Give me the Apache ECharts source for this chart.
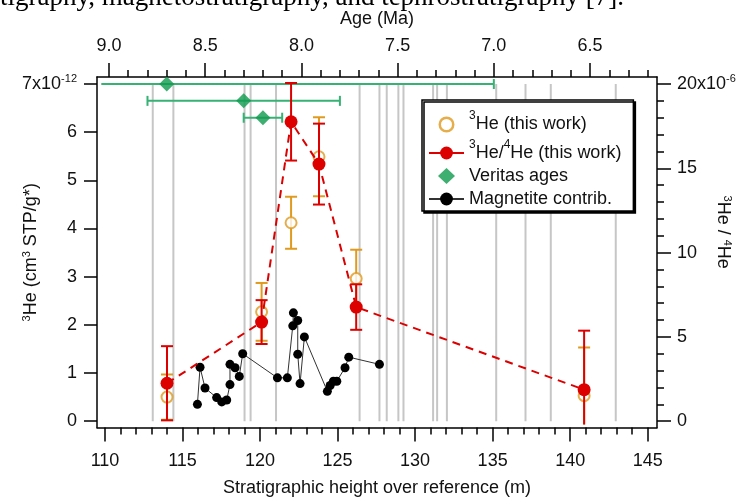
<!DOCTYPE html>
<html>
<head>
<meta charset="utf-8">
<script src="https://cdn.jsdelivr.net/npm/echarts@6/dist/echarts.min.js"></script>
<style>
  html, body { margin: 0; padding: 0; background: #fff; }
  #chart { width: 742px; height: 498px; }
</style>
</head>
<body>
<div id="chart"></div>
<script>
// 3He and 3He/4He samples (stratigraphic height in m)
const sampleHeight = [114.0, 120.1, 122.0, 123.8, 126.2, 140.9];
const he3 = [0.50, 2.27, 4.12, 5.49, 2.96, 0.53];          // x10^-12 cm3 STP/g
const he3Err = [0.47, 0.60, 0.54, 0.82, 0.60, 1.00];
const ratio = [2.25, 5.88, 17.76, 15.25, 6.77, 1.87];      // x10^-6
const ratioErr = [2.2, 1.3, 2.3, 2.4, 1.35, 3.5];

// magnetite contribution
const magHeight = [115.96, 116.13, 116.45, 117.20, 117.53, 117.85, 118.06, 118.06, 118.39, 118.66, 118.88,
  121.12, 121.76, 122.11, 122.15, 122.43, 122.43, 122.58, 122.86, 124.34, 124.52, 124.73, 124.95, 125.48, 125.72, 127.70];
const magValue = [0.35, 1.12, 0.69, 0.49, 0.40, 0.44, 0.76, 1.18, 1.11, 0.93, 1.40,
  0.90, 0.90, 1.98, 2.25, 2.09, 1.39, 0.78, 1.75, 0.62, 0.74, 0.83, 0.83, 1.11, 1.33, 1.18];

// Veritas ages (Ma), plotted against the ratio axis
const veritasAge = [8.70, 8.30, 8.20];
const veritasOld = [9.04, 8.80, 8.30];
const veritasYoung = [7.00, 7.80, 8.10];
const veritasLevel = [20, 19, 18];

// grey reference levels (m)
const refLevels = [113.08, 114.41, 119.0, 119.39, 121.03, 126.42, 127.70, 128.17, 128.92, 129.25,
  131.16, 131.42, 132.05, 135.23, 137.12, 138.75, 142.94];

// ticks
const heightTicks = [110, 115, 120, 125, 130, 135, 140, 145];
const ageTicks = [9.0, 8.5, 8.0, 7.5, 7.0, 6.5];
const he3Ticks = [0, 1, 2, 3, 4, 5, 6, 7];
const ratioTicks = [0, 5, 10, 15, 20];
const heightMinor = [];
for (let v = 110; v <= 145; v++) heightMinor.push(v);
const ageMinor = [];
for (let i = 90; i >= 62; i--) ageMinor.push(i / 10);
const ratioMinor = [];
for (let v = 0; v <= 20; v++) ratioMinor.push(v);

const FONT = '"Liberation Sans", Arial, sans-serif';
const RED = '#dc0000';
const ORANGE = '#e09a1e';
const GREEN_LINE = '#35b274';
const GREEN = '#0f9a4e';

const sup = { fontSize: 11, fontFamily: FONT, color: '#111', padding: [0, 0, 10, 0] };
const legendSup = { fontSize: 12, fontFamily: FONT, color: '#111', padding: [0, 0, 17, 0] };
const labelText = { fontFamily: FONT, fontSize: 18, color: '#111' };

// legend icons drawn inside a 35x16 box so they keep their shape
const diamondIcon = 'path://M0,8L0.01,8ZM35,8L34.99,8ZM17.5,0L26,8L17.5,16L9,8Z';
const ringIcon = 'path://M0,8L0.01,8ZM35,8L34.99,8Z' +
  'M25.5,8A8,8,0,1,0,9.5,8A8,8,0,1,0,25.5,8Z' +
  'M23,8A5.5,5.5,0,1,1,12,8A5.5,5.5,0,1,1,23,8Z';

function vErrBar(color, cap) {
  return function (params, api) {
    const cs = params.coordSys;
    const bottom = cs.y + cs.height;
    const x = api.value(0);
    const p0 = api.coord([x, api.value(1)]);
    const p1 = api.coord([x, api.value(2)]);
    const style = { stroke: color, lineWidth: 2 };
    const clipped = p0[1] > bottom;
    const y0 = clipped ? bottom - 3 : p0[1];
    const children = [
      { type: 'line', shape: { x1: p0[0], y1: y0, x2: p1[0], y2: p1[1] }, style },
      { type: 'line', shape: { x1: p1[0] - cap, y1: p1[1], x2: p1[0] + cap, y2: p1[1] }, style }
    ];
    if (!clipped) {
      children.push({ type: 'line', shape: { x1: p0[0] - cap, y1: p0[1], x2: p0[0] + cap, y2: p0[1] }, style });
    }
    return { type: 'group', children };
  };
}

function hErrBar(params, api) {
  const y = api.value(3);
  const p0 = api.coord([api.value(1), y]);
  const p1 = api.coord([api.value(2), y]);
  const style = { stroke: GREEN_LINE, lineWidth: 2 };
  const children = [
    { type: 'line', shape: { x1: p0[0], y1: p0[1], x2: p1[0], y2: p1[1] }, style },
    { type: 'line', shape: { x1: p1[0], y1: p1[1] - 5, x2: p1[0], y2: p1[1] + 5 }, style }
  ];
  if (api.value(1) <= 9.0) {
    children.push({ type: 'line', shape: { x1: p0[0], y1: p0[1] - 5, x2: p0[0], y2: p0[1] + 5 }, style });
  }
  return { type: 'group', children };
}

const names = ['3He (this work)', '3He/4He (this work)', 'Veritas ages', 'Magnetite contrib.'];
const legendLabels = {
  '3He (this work)': '{sup|3}He (this work)',
  '3He/4He (this work)': '{sup|3}He/{sup|4}He (this work)',
  'Veritas ages': 'Veritas ages',
  'Magnetite contrib.': 'Magnetite contrib.'
};
const legendIcons = { '3He (this work)': ringIcon, 'Veritas ages': diamondIcon };

const chart = echarts.init(document.getElementById('chart'));

const axisLine = { show: true, onZero: false, lineStyle: { color: '#000', width: 1.5 } };
const noLine = { show: false, onZero: false };
const tickStyle = { color: '#000', width: 1.5 };

chart.setOption({
  animation: false,
  backgroundColor: '#fff',
  textStyle: { fontFamily: FONT },
  grid: { left: 97, right: 85, top: 77, bottom: 70.5, outerBoundsMode: 'none', containLabel: false },
  graphic: [{
    type: 'text', left: 0, top: -16, silent: true,
    style: { text: 'tigraphy, magnetostratigraphy, and tephrostratigraphy [7].', font: '27px "Liberation Serif"', fill: '#000' }
  }],
  legend: {
    orient: 'vertical', left: 422, top: 100,
    data: names.map(n => legendIcons[n] ? { name: n, icon: legendIcons[n] } : { name: n }),
    formatter: n => legendLabels[n],
    itemWidth: 35, itemHeight: 16, itemGap: 5,
    padding: [10, 12, 3, 6],
    borderColor: '#000', borderWidth: 1.5, backgroundColor: '#fff',
    shadowColor: '#000', shadowOffsetX: 2, shadowOffsetY: 2, shadowBlur: 0,
    lineStyle: { type: 'solid' },
    selectedMode: false,
    textStyle: Object.assign({ rich: { sup: legendSup } }, labelText)
  },
  xAxis: [
    {
      type: 'value', position: 'bottom', min: 109.484, max: 145.6,
      name: 'Stratigraphic height over reference (m)', nameLocation: 'middle', nameGap: 52,
      nameMoveOverlap: false,
      nameTextStyle: labelText,
      axisLine,
      axisTick: { show: true, inside: false, customValues: heightTicks, length: 14, lineStyle: tickStyle },
      axisLabel: Object.assign({ customValues: heightTicks, margin: 25 }, labelText),
      splitLine: { show: false }
    },
    {
      type: 'value', position: 'bottom', min: 109.484, max: 145.6,
      axisLine: noLine,
      axisTick: { show: true, inside: false, customValues: heightMinor, length: 7, lineStyle: tickStyle },
      axisLabel: { show: false }, splitLine: { show: false }
    },
    {
      type: 'value', position: 'top', min: 6.152, max: 9.0624, inverse: true,
      name: 'Age (Ma)', nameLocation: 'middle', nameGap: 49,
      nameMoveOverlap: false,
      nameTextStyle: labelText,
      axisLine,
      axisTick: { show: true, inside: false, customValues: ageTicks, length: 14, lineStyle: tickStyle },
      axisLabel: Object.assign({ customValues: ageTicks, margin: 22, formatter: v => v.toFixed(1) }, labelText),
      splitLine: { show: false }
    },
    {
      type: 'value', position: 'top', min: 6.152, max: 9.0624, inverse: true,
      axisLine: noLine,
      axisTick: { show: true, inside: false, customValues: ageMinor, length: 7, lineStyle: tickStyle },
      axisLabel: { show: false }, splitLine: { show: false }
    }
  ],
  yAxis: [
    {
      type: 'value', position: 'left', min: -0.131, max: 7.146,
      name: '{sup|3}He (cm{sup|3} STP/g*)', nameLocation: 'middle', nameGap: 55,
      nameMoveOverlap: false,
      nameTextStyle: Object.assign({ rich: { sup } }, labelText),
      axisLine,
      axisTick: { show: true, inside: false, customValues: he3Ticks, length: 13, lineStyle: tickStyle },
      axisLabel: Object.assign({
        customValues: he3Ticks, margin: 20, rich: { sup },
        formatter: v => v === 7 ? '7x10{sup|-12}' : String(v)
      }, labelText),
      splitLine: { show: false }
    },
    {
      type: 'value', position: 'right', min: -0.374, max: 20.416,
      name: '{sup|3}He / {sup|4}He', nameLocation: 'middle', nameGap: 55, nameRotate: -90,
      nameMoveOverlap: false,
      nameTextStyle: Object.assign({ rich: { sup }, padding: [0, 40, 0, 0] }, labelText),
      axisLine,
      axisTick: { show: true, inside: false, customValues: ratioTicks, length: 14, lineStyle: tickStyle },
      axisLabel: Object.assign({
        customValues: ratioTicks, margin: 20, rich: { sup },
        formatter: v => v === 20 ? '20x10{sup|-6}' : String(v)
      }, labelText),
      splitLine: { show: false }
    },
    {
      type: 'value', position: 'right', min: -0.374, max: 20.416,
      axisLine: noLine,
      axisTick: { show: true, inside: false, customValues: ratioMinor, length: 7, lineStyle: tickStyle },
      axisLabel: { show: false }, splitLine: { show: false }
    }
  ],
  series: [
    {
      type: 'custom', name: 'levels', xAxisIndex: 0, yAxisIndex: 0, silent: true, z: 1,
      data: refLevels.map(x => [x]),
      renderItem: (params, api) => {
        const x = api.value(0);
        const a = api.coord([x, 0]);
        const b = api.coord([x, 7]);
        return { type: 'line', shape: { x1: a[0], y1: a[1], x2: b[0], y2: b[1] }, style: { stroke: '#c6c6c6', lineWidth: 2 } };
      }
    },
    {
      type: 'custom', name: 'veritas err', xAxisIndex: 2, yAxisIndex: 1, silent: true, z: 3,
      data: veritasAge.map((a, i) => [a, veritasOld[i], veritasYoung[i], veritasLevel[i]]),
      renderItem: hErrBar
    },
    {
      type: 'scatter', name: 'Veritas ages', xAxisIndex: 2, yAxisIndex: 1, z: 4,
      symbol: 'diamond', symbolSize: 15,
      itemStyle: { color: GREEN },
      data: veritasAge.map((a, i) => [a, veritasLevel[i]])
    },
    {
      type: 'line', name: 'Magnetite contrib.', xAxisIndex: 0, yAxisIndex: 0, z: 5,
      symbol: 'circle', symbolSize: 9,
      itemStyle: { color: '#000' },
      lineStyle: { color: '#333', width: 1 },
      data: magHeight.map((h, i) => [h, magValue[i]])
    },
    {
      type: 'custom', name: 'he3 err', xAxisIndex: 0, yAxisIndex: 0, silent: true, z: 6,
      data: sampleHeight.map((h, i) => [h, he3[i] - he3Err[i], he3[i] + he3Err[i]]),
      renderItem: vErrBar(ORANGE, 6)
    },
    {
      type: 'scatter', name: '3He (this work)', xAxisIndex: 0, yAxisIndex: 0, z: 7,
      symbol: 'emptyCircle', symbolSize: 11,
      itemStyle: { color: ORANGE, borderWidth: 2 },
      data: sampleHeight.map((h, i) => [h, he3[i]])
    },
    {
      type: 'custom', name: 'ratio err', xAxisIndex: 0, yAxisIndex: 1, silent: true, z: 8,
      data: sampleHeight.map((h, i) => [h, ratio[i] - ratioErr[i], ratio[i] + ratioErr[i]]),
      renderItem: vErrBar(RED, 6)
    },
    {
      type: 'line', name: '3He/4He (this work)', xAxisIndex: 0, yAxisIndex: 1, z: 9,
      symbol: 'circle', symbolSize: 13,
      itemStyle: { color: RED },
      lineStyle: { color: RED, width: 2, type: [8, 6] },
      data: sampleHeight.map((h, i) => [h, ratio[i]])
    }
  ]
});
</script>
</body>
</html>
